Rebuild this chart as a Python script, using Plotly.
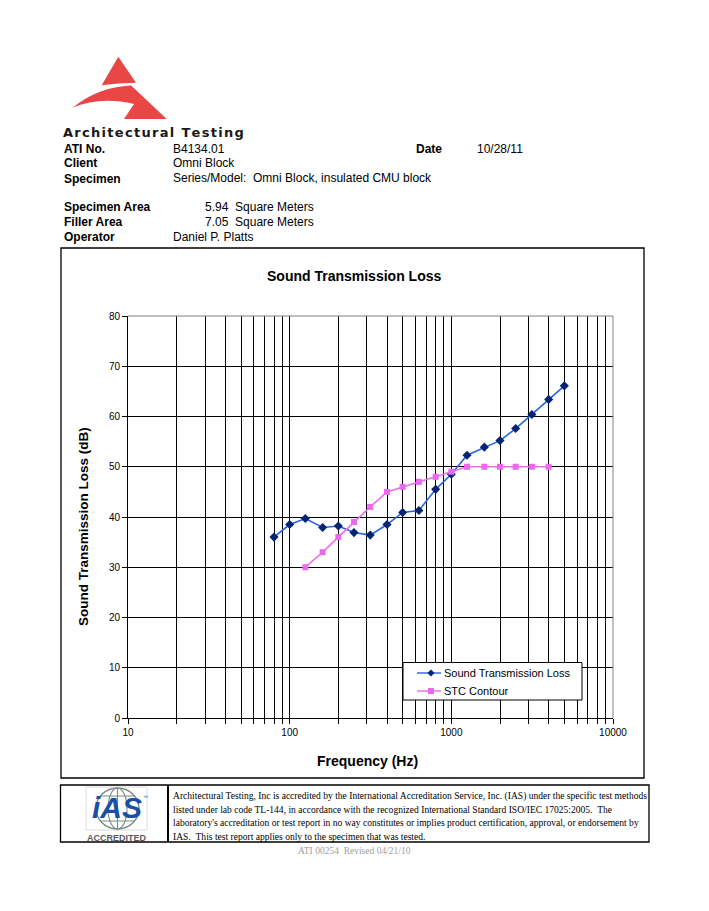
import plotly.graph_objects as go

# ---------------- data ----------------
freq_hz = [80, 100, 125, 160, 200, 250, 315, 400, 500, 630, 800, 1000,
           1250, 1600, 2000, 2500, 3150, 4000, 5000]
stl_db = [36.0, 38.5, 39.7, 37.9, 38.2, 36.9, 36.4, 38.5, 40.9, 41.3, 45.5,
          48.5, 52.3, 53.9, 55.2, 57.6, 60.4, 63.4, 66.1]
stc_freq_hz = [125, 160, 200, 250, 315, 400, 500, 630, 800, 1000, 1250,
               1600, 2000, 2500, 3150, 4000]
stc_db = [30, 33, 36, 39, 42, 45, 46, 47, 48, 49, 50, 50, 50, 50, 50, 50]
series_names = ["Sound Transmission Loss", "STC Contour"]
x_tick_vals = [10, 100, 1000, 10000]
x_tick_text = ["10", "100", "1000", "10000"]
x_minor_vals = [m * d for d in (10, 100, 1000) for m in range(2, 10)]
y_tick_vals = [0, 10, 20, 30, 40, 50, 60, 70, 80]

W, H = 709, 911
L, R, T, B = 128, 613, 316, 718  # plot area in pixels

BLUE_LINE = "rgb(40,100,225)"
BLUE_MARK = "rgb(5,35,115)"
PINK_LINE = "rgb(235,110,235)"
PINK_MARK = "rgb(235,105,240)"


def px(x):
    return (x - L) / (R - L)


def py(y):
    return (B - y) / (B - T)


def path(pts_cmds):
    out = []
    for cmd, *xy in pts_cmds:
        coords = []
        for i in range(0, len(xy), 2):
            coords.append(f"{px(xy[i]):.5f},{py(xy[i + 1]):.5f}")
        out.append(cmd + " ".join(coords))
    return " ".join(out) + " Z"


SANS = "Liberation Sans"
SERIF = "Liberation Serif"

fig = go.Figure()
fig.add_trace(go.Scatter(
    x=freq_hz, y=stl_db, mode="lines+markers", name=series_names[0],
    line=dict(color=BLUE_LINE, width=1.6),
    marker=dict(symbol="diamond", size=7, color=BLUE_MARK),
))
fig.add_trace(go.Scatter(
    x=stc_freq_hz, y=stc_db, mode="lines+markers", name=series_names[1],
    line=dict(color=PINK_LINE, width=1.6),
    marker=dict(symbol="square", size=6, color=PINK_MARK),
))

shapes = []
# chart frame
shapes.append(dict(type="rect", xref="paper", yref="paper",
                   x0=px(61), x1=px(644), y0=py(778), y1=py(248),
                   line=dict(color="black", width=1.3), layer="below"))
# gray top/right border of plot area
shapes.append(dict(type="line", xref="paper", yref="paper", x0=0, x1=1, y0=1, y1=1,
                   line=dict(color="rgb(130,130,130)", width=1)))
shapes.append(dict(type="line", xref="paper", yref="paper", x0=1, x1=1, y0=0, y1=1,
                   line=dict(color="rgb(130,130,130)", width=1)))
# legend box
shapes.append(dict(type="rect", xref="paper", yref="paper",
                   x0=px(403), x1=px(582), y0=py(700), y1=py(662.5),
                   line=dict(color="black", width=1), fillcolor="white", layer="above"))
legend_rows = [(673, BLUE_LINE, BLUE_MARK, "diamond"), (691, PINK_LINE, PINK_MARK, "square")]
for yy, lc, mc, sym in legend_rows:
    shapes.append(dict(type="line", xref="paper", yref="paper",
                       x0=px(417), x1=px(441), y0=py(yy), y1=py(yy),
                       line=dict(color=lc, width=1.4), layer="above"))
    if sym == "diamond":
        shapes.append(dict(type="path", xref="paper", yref="paper",
                           path=path([("M", 431, yy - 3.5), ("L", 434.5, yy), ("L", 431, yy + 3.5),
                                      ("L", 427.5, yy)]),
                           fillcolor=mc, line=dict(width=0), layer="above"))
    else:
        shapes.append(dict(type="rect", xref="paper", yref="paper",
                           x0=px(428), x1=px(434), y0=py(yy + 3), y1=py(yy - 3),
                           fillcolor=mc, line=dict(width=0), layer="above"))
# footer box
shapes.append(dict(type="rect", xref="paper", yref="paper",
                   x0=px(60.5), x1=px(649), y0=py(842), y1=py(785),
                   line=dict(color="black", width=1.3)))
shapes.append(dict(type="line", xref="paper", yref="paper",
                   x0=px(168), x1=px(168), y0=py(842), y1=py(785),
                   line=dict(color="black", width=2)))
# IAS logo frame + globe
GLOBE = "rgb(120,140,130)"
shapes.append(dict(type="rect", xref="paper", yref="paper",
                   x0=px(86), x1=px(147), y0=py(830), y1=py(787),
                   line=dict(color="rgb(220,220,220)", width=1)))
shapes.append(dict(type="circle", xref="paper", yref="paper",
                   x0=px(96), x1=px(139), y0=py(829), y1=py(788),
                   line=dict(color=GLOBE, width=1.4)))
shapes.append(dict(type="circle", xref="paper", yref="paper",
                   x0=px(108), x1=px(127), y0=py(829), y1=py(788),
                   line=dict(color=GLOBE, width=1.1)))
shapes.append(dict(type="line", xref="paper", yref="paper",
                   x0=px(117.5), x1=px(117.5), y0=py(829), y1=py(788),
                   line=dict(color=GLOBE, width=1.1)))
for gy in (796, 821):
    shapes.append(dict(type="line", xref="paper", yref="paper",
                       x0=px(100), x1=px(135), y0=py(gy), y1=py(gy),
                       line=dict(color=GLOBE, width=1.1)))
# Architectural Testing red logo
RED = "rgb(235,70,70)"
shapes.append(dict(type="path", xref="paper", yref="paper",
                   path=path([("M", 118.3, 56.7), ("L", 136, 82.7), ("Q", 118, 83, 101.7, 85.3)]),
                   fillcolor=RED, line=dict(width=0)))
shapes.append(dict(type="path", xref="paper", yref="paper",
                   path=path([("M", 72.7, 107.7), ("Q", 98, 87, 131, 85.5), ("L", 137, 91),
                              ("L", 166.7, 119), ("L", 124, 119), ("L", 134, 104),
                              ("Q", 100, 96, 72.7, 107.7)]),
                   fillcolor=RED, line=dict(width=0)))

ann = []


def text(x, y, s, size=12, bold=False, family=SANS, color="black", xanchor="left", **kw):
    ann.append(dict(xref="paper", yref="paper", x=px(x), y=py(y), text=(f"<b>{s}</b>" if bold else s),
                    showarrow=False, xanchor=xanchor, yanchor="middle",
                    font=dict(size=size, family=family, color=color), **kw))


brand = "\u200a".join("Architectural Testing")
text(61, 133, brand, size=13, bold=True, family="DejaVu Sans", color="rgb(25,25,25)")
text(62, 149, "ATI No.", bold=True)
text(171, 149, "B4134.01")
text(414, 149, "Date", bold=True)
text(475, 149, "10/28/11")
text(62, 163, "Client", bold=True)
text(171, 163, "Omni Block")
text(62, 179, "Specimen", bold=True)
text(171, 178, "Series/Model:&nbsp;&nbsp;Omni Block, insulated CMU block")
text(62, 207, "Specimen Area", bold=True)
text(203, 207, "5.94&nbsp;&nbsp;Square Meters")
text(62, 222, "Filler Area", bold=True)
text(203, 222, "7.05&nbsp;&nbsp;Square Meters")
text(62, 237, "Operator", bold=True)
text(171, 237, "Daniel P. Platts")

text(354, 276, "Sound Transmission Loss", size=14, bold=True, xanchor="center")
text(367, 761, "Frequency (Hz)", size=14, bold=True, xanchor="center")
text(83, 527, "Sound Transmission Loss (dB)", size=13.5, bold=True, xanchor="center", textangle=-90)

# legend labels
text(442, 673, series_names[0], size=11)
text(442, 691, series_names[1], size=11)

foot = [
    "Architectural Testing, Inc is accredited by the International Accreditation Service, Inc. (IAS) under the specific test methods",
    "listed under lab code TL-144, in accordance with the recognized International Standard ISO/IEC 17025:2005.&nbsp;&nbsp;The",
    "laboratory's accreditation or test report in no way constitutes or implies product certification, approval, or endorsement by",
    "IAS.&nbsp;&nbsp;This test report applies only to the specimen that was tested.",
]
for i, s in enumerate(foot):
    text(171, 796 + i * 13.4, s, size=9.55, family=SERIF)
text(354, 851, "ATI 00254&nbsp;&nbsp;Revised 04/21/10", size=9.5, family=SERIF, color="rgb(160,160,160)",
     xanchor="center")

# IAS logo text
text(117, 807, "<i>iAS</i>", size=30, bold=True, color="rgb(25,80,165)", xanchor="center")
text(145, 797, "™", size=5, color="rgb(25,80,165)", xanchor="center")
text(117, 838, "ACCREDITED", size=9, bold=True, color="rgb(90,90,90)", xanchor="center")

fig.update_layout(
    width=W, height=H,
    margin=dict(l=L, r=W - R, t=T, b=H - B, pad=0),
    paper_bgcolor="white", plot_bgcolor="white",
    shapes=shapes, annotations=ann,
    showlegend=False,
    font=dict(family=SANS, color="black"),
)
fig.update_xaxes(
    type="log", range=[1, 4], tickvals=x_tick_vals, ticktext=x_tick_text,
    ticks="outside", ticklen=5, tickcolor="black", tickwidth=1,
    showgrid=True, gridcolor="black", gridwidth=1,
    minor=dict(tickvals=x_minor_vals, showgrid=True, gridcolor="black", gridwidth=1,
               ticks="outside", ticklen=5, tickcolor="black"),
    showline=True, linecolor="black", linewidth=1,
    tickfont=dict(size=10, family=SANS, color="black"), zeroline=False,
)
fig.update_yaxes(
    range=[0, 80], tickvals=y_tick_vals, ticks="outside", ticklen=5, tickcolor="black",
    showgrid=True, gridcolor="black", gridwidth=1,
    showline=True, linecolor="black", linewidth=1,
    tickfont=dict(size=10, family=SANS, color="black"), zeroline=False,
)

fig.write_html("out.html", config={"displayModeBar": False},
               post_script="document.body.style.margin='0';")
